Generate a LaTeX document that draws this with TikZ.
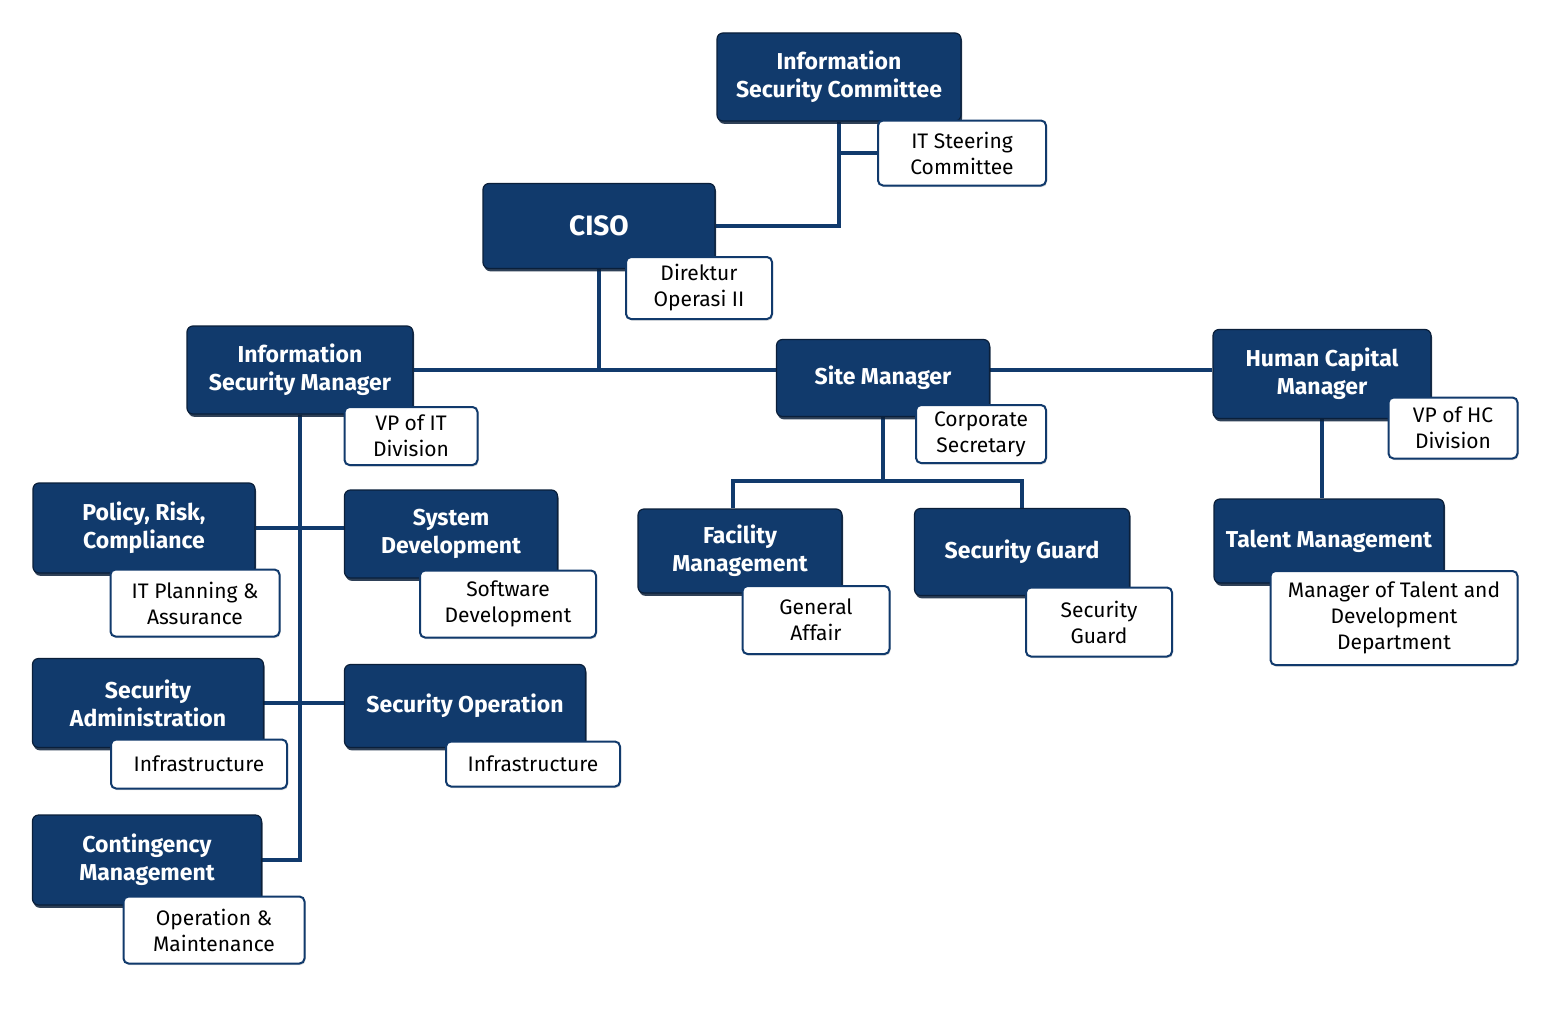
\documentclass[tikz,border=0pt]{standalone}
\usepackage{fontspec}
\setmainfont{Fira Sans}
\usepackage{tikz}
\usetikzlibrary{shadows}
\definecolor{isnavy}{HTML}{113A6C}
\definecolor{isshade}{HTML}{0A1F3A}
\pgfdeclarelayer{paper}
\pgfdeclarelayer{wires}
\pgfsetlayers{paper,wires,main}

\begin{document}
\begin{tikzpicture}[
  x=0.5pt, y=-0.5pt,
  wh/.style 2 args={minimum width=#1*0.5pt, minimum height=#2*0.5pt},
  unit/.style={draw=isshade, fill=isnavy, rounded corners=3pt, line width=0.6pt, text=white, align=center, inner sep=0pt, font=\bfseries\fontsize{11.5}{14}\selectfont, drop shadow={shadow xshift=0.6pt, shadow yshift=-1.4pt, fill=isshade, opacity=0.85}},
  role/.style={draw=isnavy, fill=white, rounded corners=2.5pt, line width=1pt, align=center, inner sep=0pt, font=\fontsize{10.5}{13}\selectfont, drop shadow={shadow xshift=0.5pt, shadow yshift=-0.8pt, fill=black, opacity=0.15}},
  link/.style={draw=isnavy, line width=2pt}
]
\useasboundingbox (0,0) rectangle (1556,1011);
\begin{pgfonlayer}{paper}
\fill[white] (0,0) rectangle (1556,1011);
\end{pgfonlayer}

% top of the chart
\node[unit, wh={244}{88}] (isc) at (839,77) {Information\\Security Committee};
\node[role, wh={168}{65}] (itsc) at (962,153) {IT Steering\\Committee};
\node[unit, wh={232}{85}, font=\bfseries\fontsize{14}{16}\selectfont] (ciso) at (599,226) {CISO};
\node[role, wh={146}{62}] (dir2) at (699,288) {Direktur\\Operasi II};

% managers
\node[unit, wh={226}{88}] (ism) at (300,370) {Information\\Security Manager};
\node[role, wh={133}{58}] (vpit) at (411,436) {VP of IT\\Division};
\node[unit, wh={213}{77}] (site) at (883,378) {Site Manager};
\node[role, wh={130}{58}] (corsec) at (981,434) {Corporate\\Secretary};
\node[unit, wh={218}{89}] (hcm) at (1322,374) {Human Capital\\Manager};
\node[role, wh={129}{61}] (vphc) at (1453,428) {VP of HC\\Division};

% information security units
\node[unit, wh={222}{90}] (prc) at (144,528) {Policy, Risk,\\Compliance};
\node[role, wh={169}{67}] (itpa) at (195,603) {IT Planning \&\\Assurance};
\node[unit, wh={213}{88}] (sysdev) at (451,534) {System\\Development};
\node[role, wh={176}{67}] (swdev) at (508,604) {Software\\Development};
\node[unit, wh={231}{89}] (secadm) at (148,703) {Security\\Administration};
\node[role, wh={176}{49}] (infra1) at (199,764) {Infrastructure};
\node[unit, wh={241}{83}] (secop) at (465,706) {Security Operation};
\node[role, wh={174}{45}] (infra2) at (533,764) {Infrastructure};
\node[unit, wh={229}{90}] (contm) at (147,860) {Contingency\\Management};
\node[role, wh={181}{67}] (opm) at (214,930) {Operation \&\\Maintenance};

% site and human capital units
\node[unit, wh={204}{84}] (facm) at (740,551) {Facility\\Management};
\node[role, wh={147}{68}] (ga) at (816,620) {General\\Affair};
\node[unit, wh={215}{87}] (sguard) at (1022,552) {Security Guard};
\node[role, wh={146}{69}] (sguard2) at (1099,622) {Security\\Guard};
\node[unit, wh={230}{84}] (talent) at (1329,541) {Talent Management};
\node[role, wh={247}{94}] (mtdd) at (1394,618) {Manager of Talent and\\Development\\Department};

\begin{pgfonlayer}{wires}
\draw[link] (isc.south) |- (ciso.east);
\draw[link] (isc.south |- itsc.west) -- (itsc.west);
\draw[link] (ciso.south) -- (ciso.south |- ism.east);
\draw[link] (ism.east) -- (ism.east -| site.west);
\draw[link] (site.east |- ism.east) -- (hcm.west |- ism.east);
\draw[link] (ism.south) -- (ism.south |- contm.east) -- (contm.east);
\draw[link] (prc.east) -- (prc.east -| sysdev.west);
\draw[link] (secadm.east) -- (secadm.east -| secop.west);
\coordinate (sitebus) at ([yshift=-32pt]site.south);
\draw[link] (site.south) -- (sitebus);
\draw[link] ([xshift=-3.5pt]facm.north) |- (sitebus);
\draw[link] (sguard.north) |- (sitebus);
\draw[link] (hcm.south) -- (hcm.south |- talent.north);
\end{pgfonlayer}
\end{tikzpicture}
\end{document}
